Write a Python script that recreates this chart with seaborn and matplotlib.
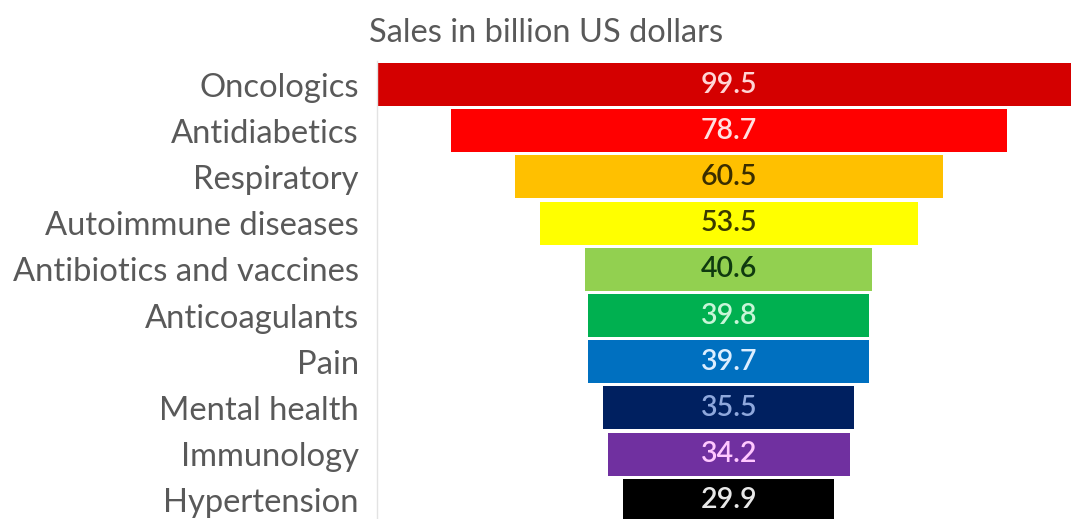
import matplotlib
matplotlib.use("Agg")
import matplotlib.pyplot as plt
import seaborn as sns
import pandas as pd

categories = ["Oncologics", "Antidiabetics", "Respiratory", "Autoimmune diseases",
              "Antibiotics and vaccines", "Anticoagulants", "Pain", "Mental health",
              "Immunology", "Hypertension"]
sales = [99.5, 78.7, 60.5, 53.5, 40.6, 39.8, 39.7, 35.5, 34.2, 29.9]
bar_colors = ["#D40000", "#FF0000", "#FFC000", "#FFFF00", "#92D050",
              "#00B050", "#0070C0", "#002060", "#7030A0", "#000000"]
value_colors = ["#FFD6D6", "#FFE0E0", "#3A2E00", "#3A3A00", "#0F3A0F",
                "#C8F5D8", "#DDEEFF", "#8FA8DC", "#FFC8FF", "#E8E8E8"]
title = "Sales in billion US dollars"

df = pd.DataFrame({"category": categories, "sales": sales})

sns.set_theme(style="white")
plt.rcParams["font.family"] = ["Lato", "DejaVu Sans"]

fig = plt.figure(figsize=(10.71, 5.19), dpi=100)
ax = fig.add_axes([377 / 1071, 0.0, 1 - 377 / 1071, 1 - 61 / 519])

sns.barplot(data=df, x="sales", y="category", hue="category",
            palette=bar_colors, orient="h", width=0.93, legend=False,
            linewidth=0, saturation=1, ax=ax)

# centre every bar on zero to form the funnel
for patch in ax.patches:
    w = patch.get_width()
    patch.set_x(-w / 2)

for i, (v, c) in enumerate(zip(sales, value_colors)):
    ax.text(0, i, f"{v:.1f}", ha="center", va="center", color=c,
            fontsize=20.5, fontweight="semibold")

ax.set_xlim(-49.75, 48.4)
ax.set_ylim(9.405, -0.509)
ax.set_xlabel("")
ax.set_ylabel("")
ax.set_xticks([])
ax.tick_params(axis="y", length=0, pad=13, labelsize=23.6, labelcolor="#595959")
for side in ["top", "right", "bottom"]:
    ax.spines[side].set_visible(False)
ax.spines["left"].set_color("#E3E3E3")
ax.spines["left"].set_linewidth(1)

fig.text(369 / 1071, 1 - 33 / 519, title, ha="left", va="center",
         fontsize=23.5, color="#595959")

fig.savefig("out.png", dpi=100, facecolor="white")
